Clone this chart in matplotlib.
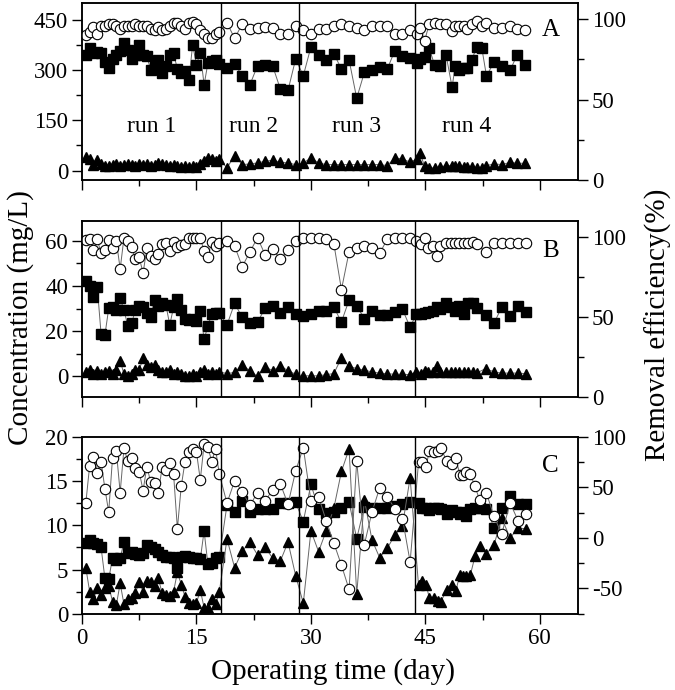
import matplotlib.pyplot as plt
from matplotlib.ticker import MultipleLocator

plt.rcParams['font.family'] = ['Liberation Serif', 'DejaVu Serif']
plt.rcParams['font.size'] = 16
plt.rcParams['axes.unicode_minus'] = False

# sampling days shared by runs 1-3
days_run1 = [0.5, 1.0, 1.5, 2.0, 2.5, 3.0, 3.5, 4.0, 4.5, 5.0, 5.5, 6.0,
             6.5, 7.0, 7.5, 8.0, 8.5, 9.0, 9.5, 10.0, 10.5, 11.0, 11.5, 12.0,
             12.5, 13.0, 13.5, 14.0, 14.5, 15.0, 15.5, 16.0, 16.5, 17.0, 17.5, 18.0]
days_run2 = [19, 20, 21, 22, 23, 24, 25, 26, 27, 28]
days_run3 = [29, 30, 31, 32, 33, 34, 35, 36, 37, 38, 39, 40, 41, 42, 43]

run_bounds = [18.2, 28.4, 43.7]
run_labels = ["run 1", "run 2", "run 3", "run 4"]
run_label_x = [9.1, 22.5, 36.0, 50.4]

# ---- panel A
a_days_run4 = [43.9, 44.3, 44.9, 45.5, 46.2, 46.9, 47.7, 48.5, 48.9, 49.4, 50.0,
               50.5, 51.1, 51.7, 52.4, 53.0, 54.0, 55.1, 56.1, 57.0, 58.1]
a_influent = [345, 365, 352, 355, 352, 323, 306, 333, 346, 358, 380, 360,
              333, 346, 375, 346, 341, 301, 316, 331, 291, 311, 346, 350,
              303, 291, 296, 271, 375, 316, 352, 256, 321, 326, 330, 318,
              306, 319, 283, 256, 313, 316, 311, 243, 240, 333,
              283, 369, 346, 329, 349, 303, 330, 216, 293, 299, 309, 303, 358, 341, 336,
              321, 333, 340, 365, 316, 311, 346, 249, 311, 301, 306, 305, 331, 368,
              365, 283, 323, 313, 299, 344, 316]
a_effluent = [40, 35, 18, 33, 20, 15, 15, 18, 20, 15, 18, 20,
              18, 15, 20, 18, 20, 15, 18, 22, 20, 18, 15, 18,
              15, 12, 15, 10, 15, 12, 20, 30, 38, 35, 30, 35,
              8, 45, 18, 20, 23, 28, 31, 25, 23, 18,
              23, 38, 23, 18, 18, 18, 18, 18, 18, 18, 18, 15, 38, 35, 25,
              35, 52, 13, 8, 8, 10, 15, 15, 15, 15, 12, 12, 12, 8,
              8, 15, 20, 18, 25, 22, 22]
a_removal = [90, 92, 95, 91, 95.5, 96, 97, 97, 95.5, 94, 96, 96,
             95.5, 97, 96, 95.5, 95.5, 94, 93, 95, 93, 94, 95.5, 97.3,
             97.7, 96, 94, 97.3, 98.3, 97, 93, 91, 88.5, 88, 91, 92,
             97.7, 88, 97, 93.7, 94.7, 95.2, 94.7, 91, 91, 96,
             93.1, 91, 94, 93.7, 96, 97, 96, 94.7, 93, 96, 95.5, 95.5, 91, 90.6, 93,
             90.6, 94.7, 86.5, 97, 97.3, 97, 97, 92.7, 96, 95.5, 96, 93.7, 97, 99,
             95.5, 97.7, 94.7, 94.2, 96, 93.7, 93.1]

# ---- panel B
b_days_run4 = [43.8, 44.4, 45.0, 45.4, 46.0, 46.5, 46.9, 47.7, 48.3, 48.9, 49.4,
               50.0, 50.6, 51.2, 51.7, 52.9, 54.0, 55.0, 56.1, 57.2, 58.2]
b_influent = [42.3, 40, 35, 39.4, 18.8, 18.3, 30.1, 30.9, 29.4, 34.5, 29.4, 22.3,
              23.5, 29.4, 31.2, 30.6, 28.2, 26.1, 33.8, 31.2, 32.3, 31.5, 22.8, 30.6,
              34.1, 29.4, 25.2, 24.9, 25.2, 24.6, 29.1, 16.4, 22.3, 27.6, 28.2, 27.9,
              22.8, 32.3, 26.1, 23.6, 24.1, 30.1, 31.2, 28.2, 30.6, 27.6,
              26.7, 27.6, 29.1, 29.1, 30.6, 24.1, 33.8, 31.2, 25.6, 29.1, 27.2, 27.2,
              28.6, 29.7, 21.7,
              27.6, 27.6, 27.9, 28.5, 29.1, 30.6, 29.7, 32.3, 30.9, 29.1, 31.2,
              27.6, 32.3, 32.6, 30.1, 27.2, 23.6, 30.6, 26.7, 31.2, 28.6]
b_effluent = [2, 3, 1, 2.5, 1, 2, 2.5, 1, 3, 7, 1, 0,
              1, 3, 3, 8, 5, 4, 5, 3, 2, 2, 3, 1,
              2, 1, 0, 0, 1, 0, 2, 3, 1, 2, 1, 2,
              1.3, 1.8, 5.2, 2.5, 0, 4.3, 2.5, 4.8, 2.5, 1,
              0.3, 0.3, 0.3, 0.8, 1.3, 8.2, 4.5, 3.5, 2.8, 2, 1.5, 1.2, 1, 1, 0.8,
              2, 1.2, 2.5, 2, 1.8, 4.6, 2, 1.8, 1.8, 1.8, 1.8,
              1.8, 1.8, 1.8, 1.5, 3.5, 2, 1.5, 1.5, 1.5, 1.2]
b_removal = [98, 98.6, 91.8, 98.6, 89.8, 91.8, 98, 93.1, 97.5, 80.1, 99.5, 97.5,
             93.8, 86.3, 87.3, 77.4, 93, 88.3, 86.3, 89.3, 95.5, 96.5, 91.3, 97,
             93.8, 95, 95.8, 99.5, 99.5, 99.5, 99.5, 91.3, 87.7, 97, 94.4, 96.5,
             97.5, 94.4, 81.5, 90.8, 99.5, 88.9, 92.3, 86.3, 91.8, 97.5,
             99.6, 99.6, 99.6, 98.6, 95.9, 67.2, 90.8, 93.4, 94.4, 93, 89.8, 98.6,
             99.6, 99.6, 99.6,
             97.5, 95.9, 99.5, 93.1, 94.2, 88.3, 94.2, 96.2, 96.2, 96.2, 96.2,
             96.2, 96.2, 96.8, 95.9, 90.4, 96.2, 96.2, 96.2, 96.2, 96.2]

# ---- panel C
c_days_run4 = [44.1, 44.6, 45.1, 45.5, 46.1, 46.6, 47.0, 47.8, 48.5, 49.0, 49.5,
               49.9, 50.3, 50.9, 51.5, 52.1, 53.0, 54.0, 55.0, 56.1, 57.2, 58.2]
c_influent = [7.97, 8.35, 7.97, 7.86, 7.5, 4.0, 3.9, 6.34, 6.08, 6.27, 8.16, 6.84,
              6.96, 6.73, 6.65, 6.84, 7.78, 7.6, 7.33, 7.03, 6.65, 6.46, 6.46, 6.34,
              5.14, 6.46, 6.57, 6.46, 6.27, 6.34, 6.15, 9.37, 5.58, 5.69, 6.34, 6.46,
              12.3, 11.48, 12.76, 11.55, 11.85, 11.85, 11.85, 12.5, 12.5, 12.6,
              10.42, 14.65, 11.85, 11.4, 11.55, 11.93, 12.6, 8.5, 12.1, 11.94, 11.94,
              11.94, 12.2, 12.4, 12.6,
              12.5, 12.0, 11.93, 11.74, 12.0, 11.93, 11.8, 11.25, 11.74, 11.5, 11.25,
              11.55, 11.1, 11.85, 11.93, 11.93, 11.9, 9.74, 11.93, 13.36, 12.4, 12.4]
c_effluent = [5.2, 2.5, 1.67, 2.87, 2.12, 2.87, 3.17, 1.37, 1.0, 3.43, 1.06, 1.67,
              1.81, 2.31, 3.62, 2.5, 3.7, 3.62, 3.17, 4.0, 2.31, 2.12, 2.05, 2.5,
              4.7, 3.3, 1.93, 1.18, 1.06, 1.18, 2.68, 0.68, 0.6, 1.67, 1.06, 2.5,
              8.46, 5.2, 7.1, 8.1, 6.65, 7.5, 6.27, 5.97, 8.1, 4.3,
              1.18, 9.37, 7.03, 9.37, 11.93, 16.1, 18.65, 2.2, 12.9, 8.35, 6.35,
              7.4, 8.9, 9.97, 15.4,
              3.2, 3.7, 3.3, 1.8, 1.8, 1.4, 1.3, 2.7, 3.2, 2.6, 4.4,
              4.3, 4.3, 4.4, 6.5, 7.7, 6.8, 7.8, 10.8, 8.6, 9.7, 9.6]
c_removal = [34.5, 71.7, 80.6, 64.8, 75.6, 48.7, 25.7, 79.6, 86, 45, 88.8, 76.3,
             79.6, 69, 65.8, 46.7, 70.7, 55.3, 54, 44.4, 70, 67.4, 74, 63.2,
             9.2, 51, 75.6, 85, 88, 85, 57.5, 92.8, 90, 75.6, 88, 63,
             34.5, 56.5, 46, 32.2, 45, 36.8, 47.7, 53.3, 33.5, 66.4,
             89.5, 36.8, 41, 17, -5, -27, -51, 76.3, -6.6, 25.7, 49.3, 41, 28.9,
             19, -23.7,
             75, 75, 70.7, 86.2, 85.5, 86.2, 89.5, 76, 72.8, 79.3, 62.5,
             62.5, 65.8, 63.2, 51, 37.8, 44.4, 21.3, 3.9, 34.5, 16.4, 23.7]

days_early = days_run1 + days_run2 + days_run3

panels = [
    dict(days=days_early + a_days_run4, inf=a_influent, eff=a_effluent, rem=a_removal,
         ylim=(-28, 500), ymaj=150, ymin=75, rlim=(0, 110), rmaj=50, rmin=25,
         letter="A", letter_y=93, rect=[0.1215, 0.7391, 0.7348, 0.2565]),
    dict(days=days_early + b_days_run4, inf=b_influent, eff=b_effluent, rem=b_removal,
         ylim=(-9.2, 68.7), ymaj=20, ymin=10, rlim=(0, 110), rmaj=50, rmin=25,
         letter="B", letter_y=91, rect=[0.1215, 0.4242, 0.7348, 0.2555]),
    dict(days=days_early + c_days_run4, inf=c_influent, eff=c_effluent, rem=c_removal,
         ylim=(0, 20), ymaj=5, ymin=2.5, rlim=(-75, 100), rmaj=50, rmin=25,
         letter="C", letter_y=71, rect=[0.1215, 0.1106, 0.7348, 0.2561]),
]

fig = plt.figure(figsize=(6.75, 6.9), dpi=100)
line_kw = dict(color='0.4', lw=0.7)

for i, p in enumerate(panels):
    ax = fig.add_axes(p["rect"])
    ax2 = ax.twinx()

    ax.plot(p["days"], p["inf"], marker='s', ms=7, mfc='k', mec='k', **line_kw)
    ax.plot(p["days"], p["eff"], marker='^', ms=7.5, mfc='k', mec='k', **line_kw)
    ax2.plot(p["days"], p["rem"], marker='o', ms=7.5, mfc='white', mec='k',
             mew=0.8, **line_kw)

    for xb in run_bounds:
        ax2.axvline(xb, color='k', lw=1)

    ax.set_xlim(0, 65)
    ax.set_ylim(*p["ylim"])
    ax2.set_ylim(*p["rlim"])
    ax.xaxis.set_major_locator(MultipleLocator(15))
    ax.xaxis.set_minor_locator(MultipleLocator(7.5))
    ax.yaxis.set_major_locator(MultipleLocator(p["ymaj"]))
    ax.yaxis.set_minor_locator(MultipleLocator(p["ymin"]))
    ax2.yaxis.set_major_locator(MultipleLocator(p["rmaj"]))
    ax2.yaxis.set_minor_locator(MultipleLocator(p["rmin"]))

    for a in (ax, ax2):
        a.tick_params(which='major', direction='out', length=7, width=1, labelsize=16.5, pad=3)
        a.tick_params(which='minor', direction='out', length=4, width=1)
        for s in a.spines.values():
            s.set_linewidth(1.1)
    ax.tick_params(axis='x', top=False)
    if i < 2:
        ax.tick_params(axis='x', labelbottom=False)

    ax2.text(61.4, p["letter_y"], p["letter"], fontsize=18, ha='center', va='center')

    if i == 0:
        for lx, lab in zip(run_label_x, run_labels):
            ax.text(lx, 132, lab, fontsize=17, ha='center', va='center')

fig.text(0.03, 1 - 318 / 690, "Concentration (mg/L)", rotation=90, ha='center', va='center', fontsize=21)
fig.text(0.975, 1 - 325 / 690, "Removal efficiency(%)", rotation=90, ha='center', va='center', fontsize=21)
fig.text(333 / 675, 1 - 672 / 690, "Operating time (day)", ha='center', va='center', fontsize=21)

fig.savefig("out.png", dpi=100)
